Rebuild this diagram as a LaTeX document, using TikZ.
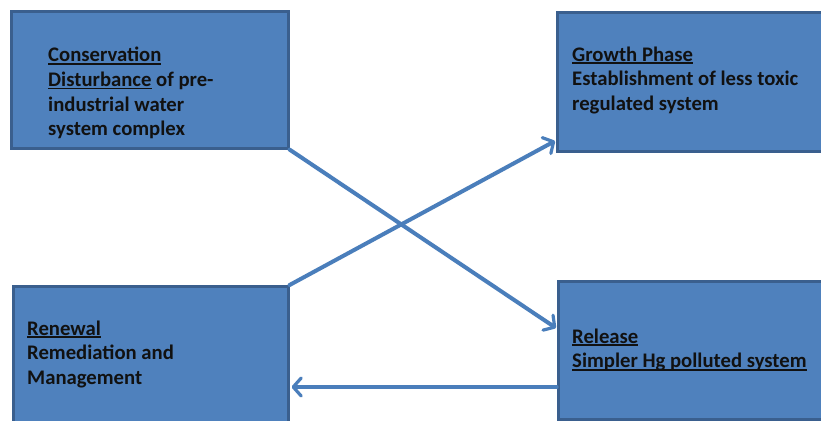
\documentclass[tikz,border=0pt]{standalone}
\usepackage{fontspec}
\setmainfont{Carlito}
\usetikzlibrary{arrows.meta,calc}
\definecolor{boxfill}{HTML}{4F81BD}
\definecolor{boxline}{HTML}{3A5F8E}
\definecolor{arrowblue}{HTML}{4A7EBB}
\definecolor{txt}{HTML}{111111}
\newcommand{\myul}[1]{{\setbox0\hbox{#1}\rlap{\rule[-3pt]{\wd0}{1.6pt}}\box0}}
\newcommand{\linestack}[1]{\vtop{\baselineskip=24.5pt\lineskiplimit=-100pt\lineskip=0pt\halign{##\hfil\cr #1\crcr}}}
\begin{document}
\begin{tikzpicture}[x=1pt,y=1pt,
  phasebox/.style={draw=boxline, fill=boxfill, line width=2.6pt, rectangle, anchor=north west, inner sep=0pt},
  phasetext/.style={anchor=base west, inner sep=0pt, text=txt,
    font=\fontsize{20.7}{24.5}\selectfont\bfseries},
  arr/.style={draw=arrowblue, line width=4pt, line cap=round,
    -{Straight Barb[length=8pt,width=18pt,line width=3.2pt,round]}},
  arrthin/.style={arr, line width=3.3pt}]
\useasboundingbox (0,0) rectangle (821,-420);
\fill[white] (0,0) rectangle (821,-420);
\node[phasebox, minimum width=277pt, minimum height=137pt] (A) at (10,-10) {};
\node[phasebox, minimum width=268pt, minimum height=139pt] (B) at (556,-11) {};
\node[phasebox, minimum width=266pt, minimum height=138pt] (C) at (557,-280) {};
\node[phasebox, minimum width=275pt, minimum height=145pt] (D) at (12,-285) {};
\node[phasetext] (At) at (48,-62) {\linestack{\myul{Conservation}\cr\myul{Disturbance} of pre-\cr industrial water\cr system complex}};
\node[phasetext] (Bt) at (572,-61) {\linestack{\myul{Growth Phase}\cr Establishment of less toxic\cr regulated system}};
\node[phasetext] (Ct) at (572,-343) {\linestack{\myul{Release}\cr\myul{Simpler Hg polluted system}}};
\node[phasetext] (Dt) at (27,-335) {\linestack{\myul{Renewal}\cr Remediation and\cr Management}};
\coordinate (Cin) at ($(C.north west)+(-1,-48)$);
\coordinate (Bin) at ($(B.north west)+(-1,-130)$);
\coordinate (Cout) at ($(C.north west)+(0,-107)$);
\coordinate (Din) at ($(D.north east)+(2,-102)$);
\draw[arr] (A.south east) -- (Cin);
\draw[arr] (D.north east) -- (Bin);
\draw[arrthin] (Cout) -- (Din);
\end{tikzpicture}
\end{document}
